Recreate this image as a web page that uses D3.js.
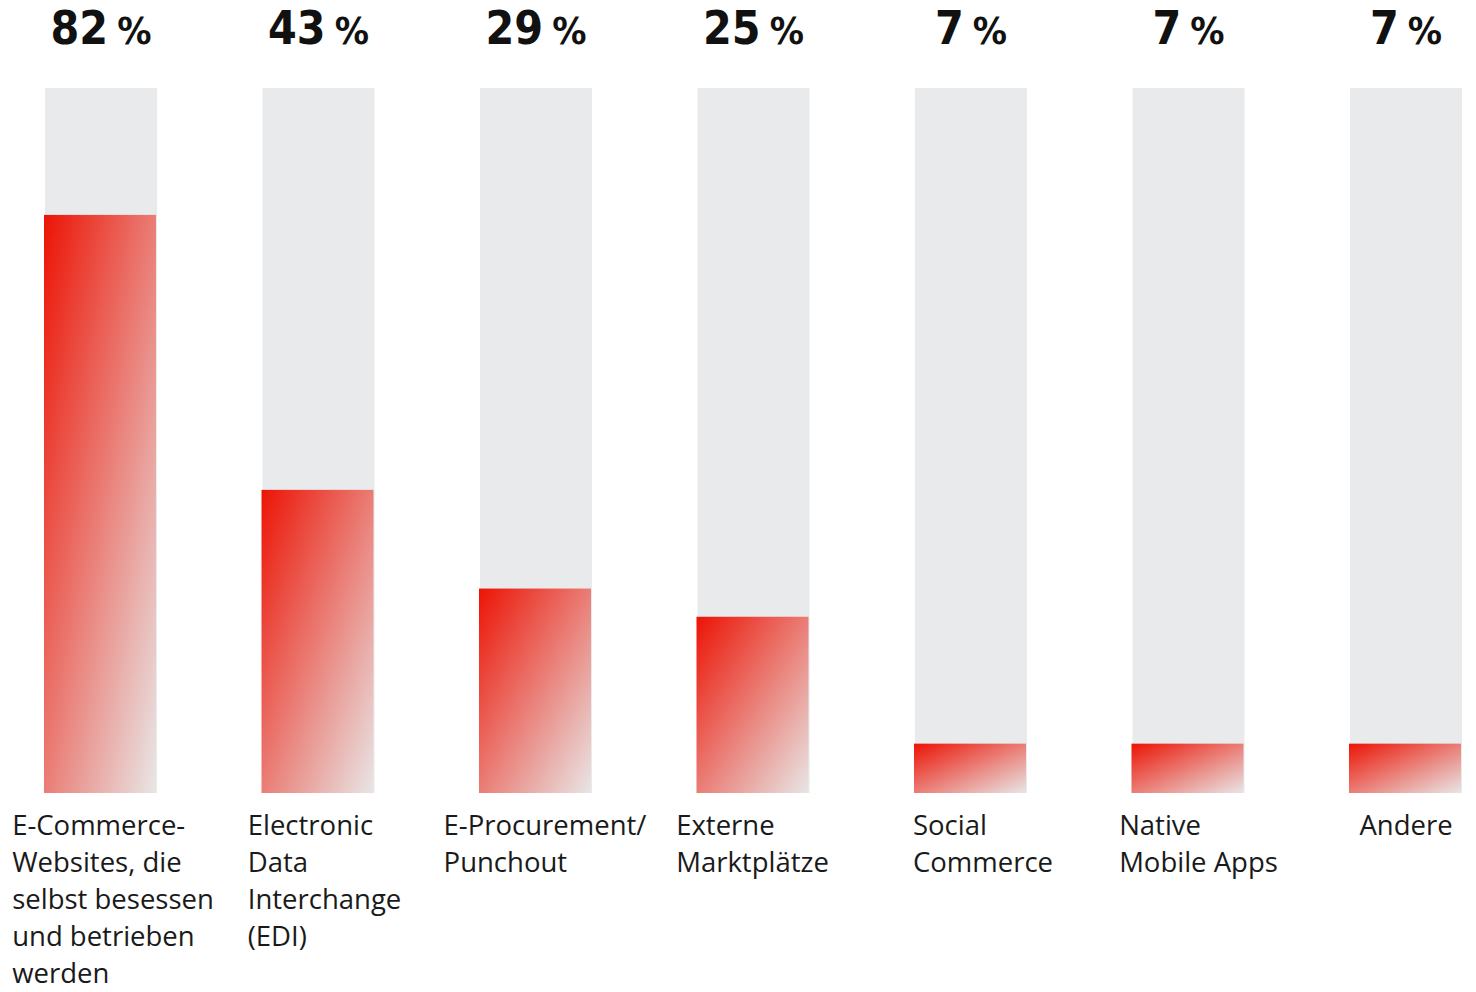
<!DOCTYPE html>
<html>
<head>
<meta charset="utf-8">
<script src="https://cdn.jsdelivr.net/npm/d3@7"></script>
<style>
  html, body { margin: 0; padding: 0; background: #fff; }
  svg { display: block; }
</style>
</head>
<body>
<svg id="chart" width="1476" height="992"></svg>
<script>
// Channel shares (%), one column per channel
const categories = [
  ["E-Commerce-", "Websites, die", "selbst besessen", "und betrieben", "werden"],
  ["Electronic", "Data", "Interchange", "(EDI)"],
  ["E-Procurement/", "Punchout"],
  ["Externe", "Marktplätze"],
  ["Social", "Commerce"],
  ["Native", "Mobile Apps"],
  ["Andere"]
];
const values = [82, 43, 29, 25, 7, 7, 7];
const valueLabels = ["82", "43", "29", "25", "7", "7", "7"];

const svg = d3.select("#chart");

const x = d3.scaleBand()
  .domain(d3.range(values.length))
  .range([45, 1462])
  .paddingInner(0.485)
  .paddingOuter(0);

const y = d3.scaleLinear().domain([0, 100]).range([793, 88]);

// Diagonal red-to-grey fill, spread over each bar's own box
const defs = svg.append("defs");
const grad = defs.append("linearGradient")
  .attr("id", "barFill")
  .attr("x1", 0).attr("y1", 0).attr("x2", 1).attr("y2", 1);
grad.append("stop").attr("offset", "0%").attr("stop-color", "#ec1405");
grad.append("stop").attr("offset", "100%").attr("stop-color", "#e8e6e6");

// Full-height track behind each bar
svg.append("g").selectAll("rect")
  .data(values)
  .join("rect")
  .attr("x", (d, i) => x(i))
  .attr("y", y(100))
  .attr("width", x.bandwidth())
  .attr("height", y(0) - y(100))
  .attr("fill", "#e9eaec");

// Value bars
svg.append("g").selectAll("rect")
  .data(values)
  .join("rect")
  .attr("x", (d, i) => x(i) - 1)
  .attr("y", d => y(d))
  .attr("width", x.bandwidth())
  .attr("height", d => y(0) - y(d))
  .attr("fill", "url(#barFill)");

// Percentage labels above each column
const valueGroup = svg.append("g")
  .attr("font-family", "'DejaVu Sans Condensed', 'DejaVu Sans', sans-serif")
  .attr("font-weight", 700)
  .attr("fill", "#111");
valueLabels.forEach((lab, i) => {
  const t = valueGroup.append("text")
    .attr("x", x(i) + x.bandwidth() / 2)
    .attr("y", 44)
    .attr("text-anchor", "middle");
  t.append("tspan").attr("font-size", 46).text(lab);
  t.append("tspan").attr("font-size", 38).attr("dx", 9).text("%");
});

// Category labels: left-aligned blocks centred under each column
const labelGroup = svg.append("g")
  .attr("font-family", "'Open Sans', 'DejaVu Sans', sans-serif")
  .attr("font-size", 27.5)
  .attr("fill", "#1a1a1a");
const shifts = [12, 6, 9, -1, 12, 10, 0];
categories.forEach((lines, i) => {
  const t = labelGroup.append("text").attr("y", 835);
  lines.forEach((ln, k) => {
    t.append("tspan").attr("dy", k === 0 ? 0 : 37).attr("x", 0).text(ln);
  });
  const w = d3.max(t.selectAll("tspan").nodes(), n => n.getComputedTextLength());
  const left = x(i) + x.bandwidth() / 2 - w / 2 + shifts[i];
  t.attr("transform", `translate(${left},0)`);
});
</script>
</body>
</html>
